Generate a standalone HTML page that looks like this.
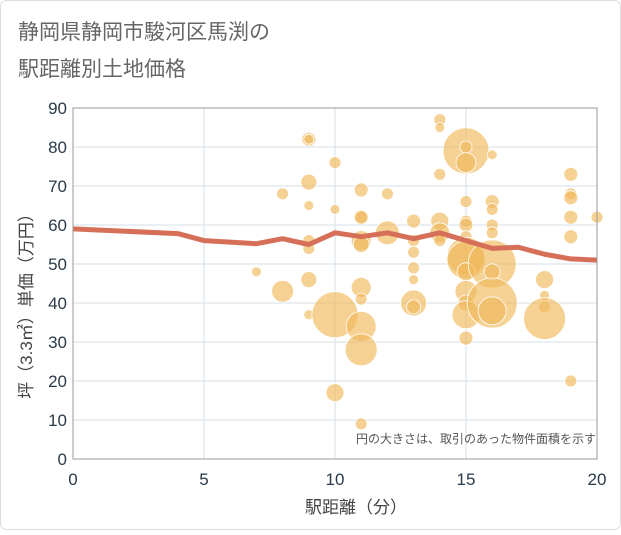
<!DOCTYPE html>
<html><head><meta charset="utf-8"><style>
body{margin:0;background:#fff;font-family:"Liberation Sans","Noto Sans CJK JP",sans-serif;}
#wrap{position:relative;width:621px;height:530px;}
</style></head><body>
<div id="wrap">
<svg id="chart" width="621" height="530" xmlns="http://www.w3.org/2000/svg">
<rect x="0.5" y="0.5" width="620" height="529" rx="6" fill="#fff" stroke="#ddd"/>
<text x="18" y="39" font-size="21" fill="#666">静岡県静岡市駿河区馬渕の</text>
<text x="18" y="76" font-size="21" fill="#666">駅距離別土地価格</text>
<g id="grid"></g>
<g id="bubbles"></g>
<g id="line"></g>
<g id="axes"></g>
<text x="596" y="443" font-size="12" fill="#555" text-anchor="end">円の大きさは、取引のあった物件面積を示す</text>
<text x="356" y="513" font-size="17" fill="#444" text-anchor="middle">駅距離（分）</text>
<text transform="translate(32,302) rotate(-90)" font-size="17" fill="#444" text-anchor="middle">坪（3.3㎡）単価（万円）</text>
</svg>
</div>
<script>
const xTicks=[0,5,10,15,20];
const yTicks=[0,10,20,30,40,50,60,70,80,90];
const bubbleX=[7,8,8,9,9,9,9,9,9,9,9,10,10,10,10,11,11,11,11,11,11,11,11,11,11,12,12,13,13,13,13,13,13,13,14,14,14,14,14,14,15,15,15,15,15,15,15,15,15,15,15,15,15,15,16,16,16,16,16,16,16,16,16,18,18,18,18,19,19,19,19,19,19,20];
const bubbleY=[48,68,43,82,82,71,65,56,54,46,37,76,64,37,17,69,62,62,56,55,44,41,34,28,9,68,58,61,56,53,49,46,40,39,87,85,73,61,58,56,79,80,76,66,61,60,57,52,51,48,43,40,37,31,78,66,64,60,58,50,48,40,38,46,42,39,36,73,68,67,62,57,20,62];
const bubbleR=[5,6,11,7,5,8,5,6,6,8,5,6,5,23,9,7,6,7,10,8,10,6,15,16,6,6,12,7,6,6,6,5,13,7,6,5,6,9,10,6,23,6,10,6,6,7,6,19,19,9,11,8,14,7,5,7,6,6,6,24,8,25,14,9,5,6,21,7,6,7,7,7,6,6];
const lineX=[0,4,5,6,7,8,9,10,11,12,13,14,15,16,17,18,19,20];
const lineY=[59,57.8,56,55.6,55.2,56.5,55,58,57,58,56.5,58,56,54,54.3,52.5,51.3,51];
const L=73,R=597,T=108,B=459;
const sx=v=>L+(v-0)/20*(R-L);
const sy=v=>B-(v-0)/90*(B-T);
const NS="http://www.w3.org/2000/svg";
function mk(tag,attrs,parent){const e=document.createElementNS(NS,tag);for(const k in attrs)e.setAttribute(k,attrs[k]);document.getElementById(parent).appendChild(e);return e;}
xTicks.forEach(t=>{const e=mk('line',{x1:sx(t),x2:sx(t),y1:T,y2:B,stroke:'#d5dfea','stroke-width':1},'grid');


const tx=mk('text',{x:sx(t),y:B+26,'font-size':17,fill:'#2a3a4a','text-anchor':'middle'},'axes');tx.textContent=t;

});
yTicks.forEach(t=>{const e=mk('line',{x1:L,x2:R,y1:sy(t),y2:sy(t),stroke:'#d5dfea','stroke-width':1},'grid');


const tx=mk('text',{x:L-6,y:sy(t)+6,'font-size':17,fill:'#2a3a4a','text-anchor':'end'},'axes');tx.textContent=t;

});
const fr=mk('rect',{x:L,y:T,width:R-L,height:B-T,fill:'none',stroke:'#999','stroke-width':1},'axes');


bubbleX.forEach((x,i)=>{const c=mk('circle',{cx:sx(x),cy:sy(bubbleY[i]),r:bubbleR[i],fill:'rgba(240,184,90,0.65)',stroke:'#fff','stroke-width':0.8},'bubbles');

});
const p=mk('polyline',{points:lineX.map((x,i)=>sx(x)+','+sy(lineY[i])).join(' '),fill:'none',stroke:'#d66f58','stroke-width':5,'stroke-linejoin':'round'},'line');


</script>
</body></html>
